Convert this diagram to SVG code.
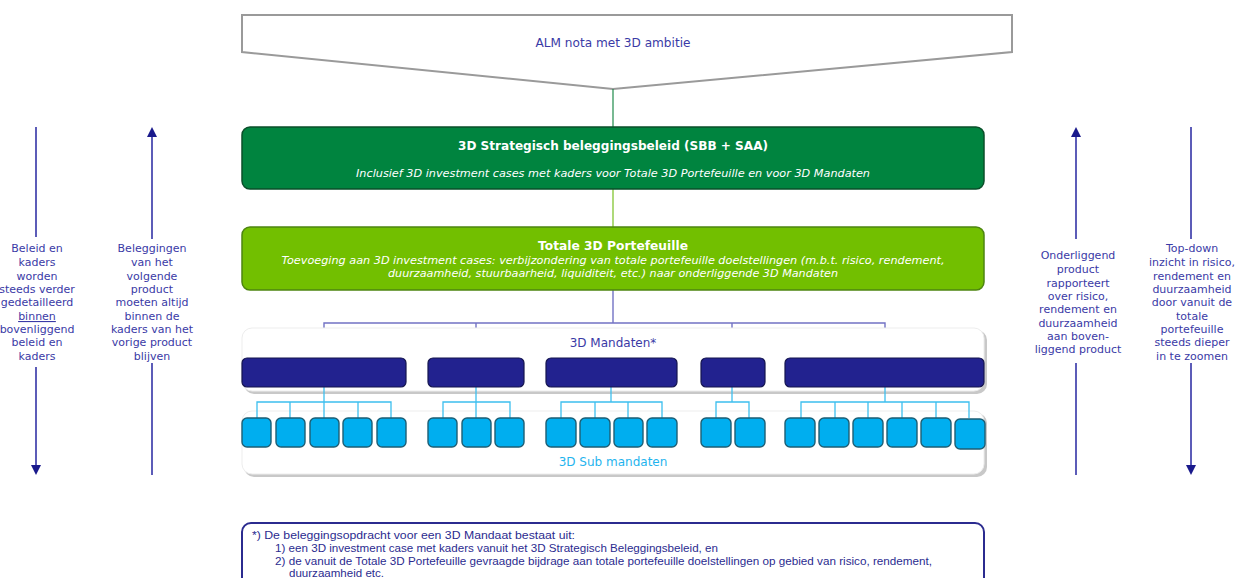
<svg xmlns="http://www.w3.org/2000/svg" width="1236" height="578" viewBox="0 0 1236 578">
<defs>
<style>
.t{font-family:"DejaVu Sans",Verdana,sans-serif;fill:#3a3aa6}
.side{font-size:11px;text-anchor:middle}
.wt{font-family:"DejaVu Sans",Verdana,sans-serif;fill:#ffffff;text-anchor:middle}
.fn{font-family:"Liberation Sans",Arial,sans-serif;font-size:10.5px;fill:#2b2b8f}
.mand{fill:#22228f;stroke:#15154f;stroke-width:1.2}
.sub{fill:#00aeef;stroke:#1d5e74;stroke-width:1.4}
.pc{fill:none;stroke:#7272c4;stroke-width:1.4}
.sc{fill:none;stroke:#3cbfee;stroke-width:1.3}
.arr{stroke:#5c5cb8;stroke-width:2;fill:none}
.ah{fill:#1a1a8c}
</style>
</defs>

<g id="alm-nota">
<polygon points="242,15 1012,15 1012,52 613,89 242,52" fill="#ffffff" stroke="#9a9a9a" stroke-width="2"/>
<text class="t" x="613" y="47" font-size="12" text-anchor="middle" textLength="155" lengthAdjust="spacingAndGlyphs">ALM nota met 3D ambitie</text>
</g>

<g id="connectors">
<line x1="613" y1="89" x2="613" y2="127" stroke="#1e8a4a" stroke-width="1.2"/>
<line x1="613" y1="189" x2="613" y2="227" stroke="#78c020" stroke-width="1.2"/>
<polyline class="pc" points="613,290 613,323"/>
<polyline class="pc" points="324,358 324,323 885,323 885,358"/>
<polyline class="pc" points="476,323 476,358"/>
<polyline class="pc" points="732,323 732,358"/>
</g>

<g id="sbb">
<rect x="242" y="127" width="742" height="62" rx="8" fill="#00843f" stroke="#0a4f2a" stroke-width="1.5"/>
<text class="wt" x="613" y="150" font-size="12.5" font-weight="bold" textLength="310" lengthAdjust="spacingAndGlyphs">3D Strategisch beleggingsbeleid (SBB + SAA)</text>
<text class="wt" x="613" y="177" font-size="11" font-style="italic" textLength="514" lengthAdjust="spacingAndGlyphs">Inclusief 3D investment cases met kaders voor Totale 3D Portefeuille en voor 3D Mandaten</text>
</g>

<g id="totale-portefeuille">
<rect x="242" y="227" width="742" height="63" rx="8" fill="#72bf00" stroke="#4d8510" stroke-width="1.5"/>
<text class="wt" x="613" y="250" font-size="12.5" font-weight="bold" textLength="150" lengthAdjust="spacingAndGlyphs">Totale 3D Portefeuille</text>
<text class="wt" x="613" y="264" font-size="11" font-style="italic" textLength="663" lengthAdjust="spacingAndGlyphs">Toevoeging aan 3D investment cases: verbijzondering van totale portefeuille doelstellingen (m.b.t. risico, rendement,</text>
<text class="wt" x="613" y="277" font-size="11" font-style="italic" textLength="450" lengthAdjust="spacingAndGlyphs">duurzaamheid, stuurbaarheid, liquiditeit, etc.) naar onderliggende 3D Mandaten</text>
</g>

<g id="mandaten-panel">
<rect x="244" y="330" width="743" height="64" rx="10" fill="#c8c8c8"/>
<rect x="242" y="328" width="742" height="63" rx="10" fill="#ffffff" stroke="#ededed" stroke-width="1"/>
<text class="t" x="613" y="347" font-size="12" text-anchor="middle">3D Mandaten*</text>
</g>

<g id="submandaten-panel">
<rect x="244" y="413" width="743" height="64" rx="10" fill="#c8c8c8"/>
<rect x="242" y="411" width="742" height="63" rx="10" fill="#ffffff" stroke="#ededed" stroke-width="1"/>
<text x="613" y="466" font-family="DejaVu Sans, Verdana, sans-serif" font-size="12" fill="#1fb4ee" text-anchor="middle">3D Sub mandaten</text>
</g>

<g id="sub-connectors">
<polyline class="sc" points="324,387 324,402"/>
<polyline class="sc" points="257,418 257,402 391,402 391,418"/>
<polyline class="sc" points="290,402 290,418"/><polyline class="sc" points="324,402 324,418"/><polyline class="sc" points="358,402 358,418"/>
<polyline class="sc" points="476,387 476,402"/>
<polyline class="sc" points="443,418 443,402 510,402 510,418"/>
<polyline class="sc" points="476,402 476,418"/>
<polyline class="sc" points="611,387 611,402"/>
<polyline class="sc" points="561,418 561,402 662,402 662,418"/>
<polyline class="sc" points="595,402 595,418"/><polyline class="sc" points="628,402 628,418"/>
<polyline class="sc" points="732,387 732,402"/>
<polyline class="sc" points="716,418 716,402 749,402 749,418"/>
<polyline class="sc" points="885,387 885,402"/>
<polyline class="sc" points="801,418 801,402 969,402 969,418"/>
<polyline class="sc" points="835,402 835,418"/><polyline class="sc" points="868,402 868,418"/><polyline class="sc" points="902,402 902,418"/><polyline class="sc" points="936,402 936,418"/>
</g>

<g id="mandaat-1"><rect class="mand" x="242" y="358" width="164" height="29" rx="5"/></g>
<g id="mandaat-2"><rect class="mand" x="428" y="358" width="96" height="29" rx="5"/></g>
<g id="mandaat-3"><rect class="mand" x="546" y="358" width="131" height="29" rx="5"/></g>
<g id="mandaat-4"><rect class="mand" x="701" y="358" width="64" height="29" rx="5"/></g>
<g id="mandaat-5"><rect class="mand" x="785" y="358" width="199" height="29" rx="5"/></g>

<g id="sub-1">
<rect class="sub" x="242" y="418" width="29" height="29" rx="5"/>
<rect class="sub" x="276" y="418" width="29" height="29" rx="5"/>
<rect class="sub" x="310" y="418" width="29" height="29" rx="5"/>
<rect class="sub" x="343" y="418" width="29" height="29" rx="5"/>
<rect class="sub" x="377" y="418" width="29" height="29" rx="5"/>
</g>
<g id="sub-2">
<rect class="sub" x="428" y="418" width="29" height="29" rx="5"/>
<rect class="sub" x="462" y="418" width="29" height="29" rx="5"/>
<rect class="sub" x="495" y="418" width="29" height="29" rx="5"/>
</g>
<g id="sub-3">
<rect class="sub" x="546" y="418" width="30" height="29" rx="5"/>
<rect class="sub" x="580" y="418" width="30" height="29" rx="5"/>
<rect class="sub" x="614" y="418" width="29" height="29" rx="5"/>
<rect class="sub" x="647" y="418" width="30" height="29" rx="5"/>
</g>
<g id="sub-4">
<rect class="sub" x="701" y="418" width="30" height="29" rx="5"/>
<rect class="sub" x="735" y="418" width="30" height="29" rx="5"/>
</g>
<g id="sub-5">
<rect class="sub" x="785" y="418" width="30" height="29" rx="5"/>
<rect class="sub" x="819" y="418" width="30" height="29" rx="5"/>
<rect class="sub" x="853" y="418" width="30" height="29" rx="5"/>
<rect class="sub" x="887" y="418" width="30" height="29" rx="5"/>
<rect class="sub" x="921" y="418" width="30" height="29" rx="5"/>
<rect class="sub" x="955" y="419" width="30" height="30" rx="5"/>
</g>

<g id="left-arrow-1">
<line class="arr" x1="36" y1="127" x2="36" y2="237"/>
<line class="arr" x1="36" y1="367" x2="36" y2="466"/>
<polygon class="ah" points="31,465 41,465 36,475"/>
<text class="t side"><tspan x="37" y="252">Beleid en</tspan><tspan x="37" y="266">kaders</tspan><tspan x="37" y="280">worden</tspan><tspan x="37" y="293">steeds verder</tspan><tspan x="37" y="306">gedetailleerd</tspan><tspan x="37" y="320" text-decoration="underline">binnen</tspan><tspan x="37" y="333">bovenliggend</tspan><tspan x="37" y="346">beleid en</tspan><tspan x="37" y="360">kaders</tspan></text>
</g>

<g id="left-arrow-2">
<line class="arr" x1="152" y1="136" x2="152" y2="239"/>
<line class="arr" x1="152" y1="363" x2="152" y2="475"/>
<polygon class="ah" points="147,137 157,137 152,127"/>
<text class="t side"><tspan x="152" y="252">Beleggingen</tspan><tspan x="152" y="266">van het</tspan><tspan x="152" y="280">volgende</tspan><tspan x="152" y="293">product</tspan><tspan x="152" y="306">moeten altijd</tspan><tspan x="152" y="320">binnen de</tspan><tspan x="152" y="333">kaders van het</tspan><tspan x="152" y="346">vorige product</tspan><tspan x="152" y="360">blijven</tspan></text>
</g>

<g id="right-arrow-1">
<line class="arr" x1="1076" y1="136" x2="1076" y2="239"/>
<line class="arr" x1="1076" y1="363" x2="1076" y2="475"/>
<polygon class="ah" points="1071,137 1081,137 1076,127"/>
<text class="t side"><tspan x="1078" y="259">Onderliggend</tspan><tspan x="1078" y="273">product</tspan><tspan x="1078" y="287">rapporteert</tspan><tspan x="1078" y="300">over risico,</tspan><tspan x="1078" y="313">rendement en</tspan><tspan x="1078" y="327">duurzaamheid</tspan><tspan x="1078" y="340">aan boven-</tspan><tspan x="1078" y="353">liggend product</tspan></text>
</g>

<g id="right-arrow-2">
<line class="arr" x1="1191" y1="127" x2="1191" y2="239"/>
<line class="arr" x1="1191" y1="363" x2="1191" y2="466"/>
<polygon class="ah" points="1186,465 1196,465 1191,475"/>
<text class="t side"><tspan x="1192" y="252">Top-down</tspan><tspan x="1192" y="266">inzicht in risico,</tspan><tspan x="1192" y="280">rendement en</tspan><tspan x="1192" y="293">duurzaamheid</tspan><tspan x="1192" y="306">door vanuit de</tspan><tspan x="1192" y="320">totale</tspan><tspan x="1192" y="333">portefeuille</tspan><tspan x="1192" y="346">steeds dieper</tspan><tspan x="1192" y="360">in te zoomen</tspan></text>
</g>

<g id="footnote">
<rect x="242" y="523" width="742" height="70" rx="9" fill="#ffffff" stroke="#2b2b8f" stroke-width="2"/>
<text class="fn" x="252" y="539" textLength="323" lengthAdjust="spacingAndGlyphs">*) De beleggingsopdracht voor een 3D Mandaat bestaat uit:</text>
<text class="fn" x="275" y="552" textLength="443" lengthAdjust="spacingAndGlyphs">1) een 3D investment case met kaders vanuit het 3D Strategisch Beleggingsbeleid, en</text>
<text class="fn" x="275" y="565" textLength="657" lengthAdjust="spacingAndGlyphs">2) de vanuit de Totale 3D Portefeuille gevraagde bijdrage aan totale portefeuille doelstellingen op gebied van risico, rendement,</text>
<text class="fn" x="289" y="577" textLength="95" lengthAdjust="spacingAndGlyphs">duurzaamheid etc.</text>
</g>
</svg>
